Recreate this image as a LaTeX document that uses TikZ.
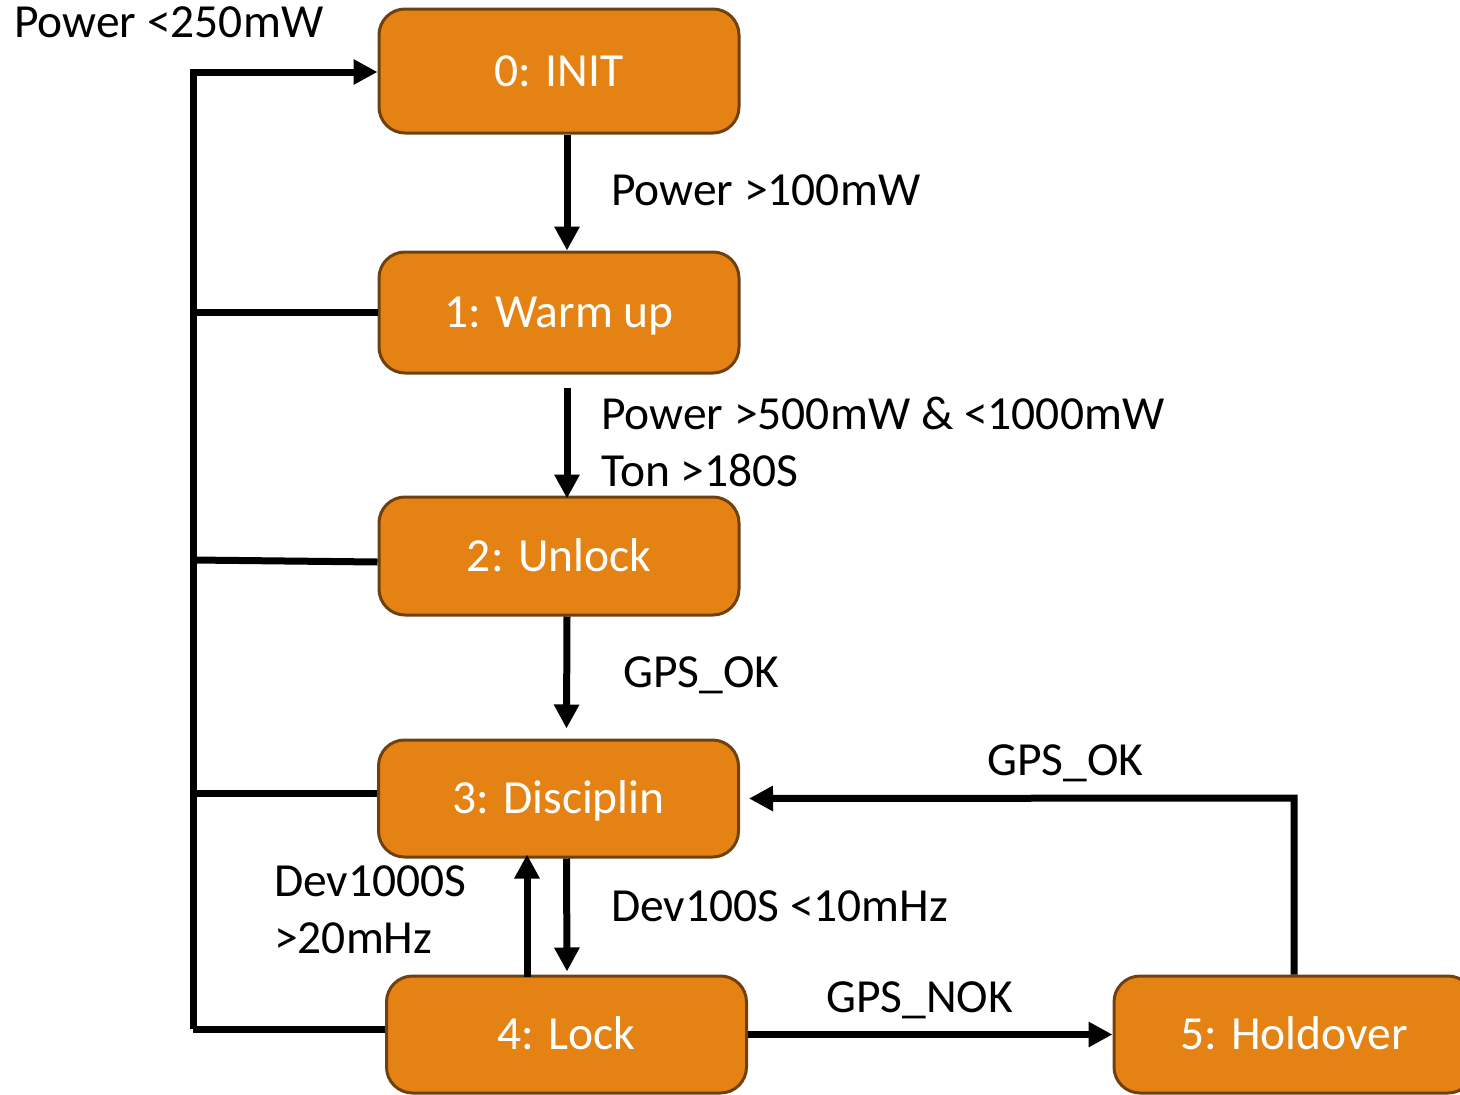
\documentclass[tikz,border=0pt]{standalone}
\usepackage{fontspec}
\setmainfont{Carlito}
\usetikzlibrary{arrows.meta,calc}
\definecolor{boxfill}{RGB}{228,131,20}
\definecolor{boxline}{RGB}{110,65,15}
\begin{document}
\begin{tikzpicture}[x=1pt,y=-1pt,
  state/.style={draw=boxline,line width=3pt,fill=boxfill,rounded corners=26pt,
    minimum width=360pt,text=white,font=\fontsize{47.5}{56}\selectfont,
    text height=30pt,text depth=0pt,inner sep=0pt},
  lbl/.style={anchor=base west,inner sep=0pt,font=\fontsize{47.5}{56}\selectfont},
  conn/.style={line width=7pt,draw=black},
  arr/.style={conn,-{Triangle[length=24pt,width=24pt]}}]
\useasboundingbox (0,0) rectangle (1460,1095);
\begin{scope}
\clip (0,0) rectangle (1460,1095);
\node[state,minimum height=124pt] (init) at (559,71) {0: INIT};
\node[state,minimum height=121pt] (warm) at (559,312.5) {1: Warm up};
\node[state,minimum height=118pt] (unlock) at (559,556) {2: Unlock};
\node[state,minimum height=117pt] (disc) at (558.5,798.5) {3: Disciplin};
\node[state,minimum height=117pt] (lock) at (566.5,1034.5) {4: Lock};
\node[state,minimum height=117pt] (hold) at (1294,1034.5) {5: Holdover};
\end{scope}
% labels
\node[lbl] (l0) at (14,37) {Power <250mW};
\node[lbl] (l1) at (611,205) {Power >100mW};
\node[lbl] (l2) at (601,429) {Power >500mW \& <1000mW};
\node[lbl] (l3) at (601,486) {Ton >180S};
\node[lbl] (l4) at (623,687) {GPS\_OK};
\node[lbl] (l5) at (987,775) {GPS\_OK};
\node[lbl] (l6) at (274,896) {Dev1000S};
\node[lbl] (l7) at (274,953) {>20mHz};
\node[lbl] (l8) at (611,921) {Dev100S <10mHz};
\node[lbl] (l9) at (826,1012) {GPS\_NOK};
% coordinates
\coordinate (busTop) at (193,72);
\coordinate (busBot) at (193,1029);
\coordinate (holdTurn) at (1294,798);
% vertical chain
\draw[arr] ([xshift=8pt]init.south) -- ([xshift=8pt]warm.north);
\draw[arr] ([xshift=8pt,yshift=-13pt]warm.south) -- ([xshift=8pt,yshift=-3pt]unlock.north);
\draw[arr] ([xshift=8pt]unlock.south) -- ([xshift=8pt,yshift=10pt]disc.north);
\draw[arr] ([xshift=8pt]disc.south) -- ([xshift=0.5pt,yshift=3pt]lock.north);
\draw[arr] ([xshift=-39.5pt,yshift=-2pt]lock.north) -- ([xshift=-31.5pt,yshift=4pt]disc.south);
% lock -> holdover
\draw[arr] (lock.east) -- (hold.west);
% holdover -> disciplin
\draw[arr] (hold.north) -- (holdTurn) -- ([xshift=9pt]disc.east);
% bus
\draw[conn] (lock.west |- busBot) -- (busBot);
\draw[arr] (busBot) -- (busTop) -- ([yshift=-1pt]init.west);
\draw[conn] (warm.west) -- (warm.west -| busBot);
\draw[conn] ([yshift=-6pt]unlock.west) -- (193,560);
\draw[conn] ([yshift=5.5pt]disc.west) -- (193,793);
\end{tikzpicture}
\end{document}
